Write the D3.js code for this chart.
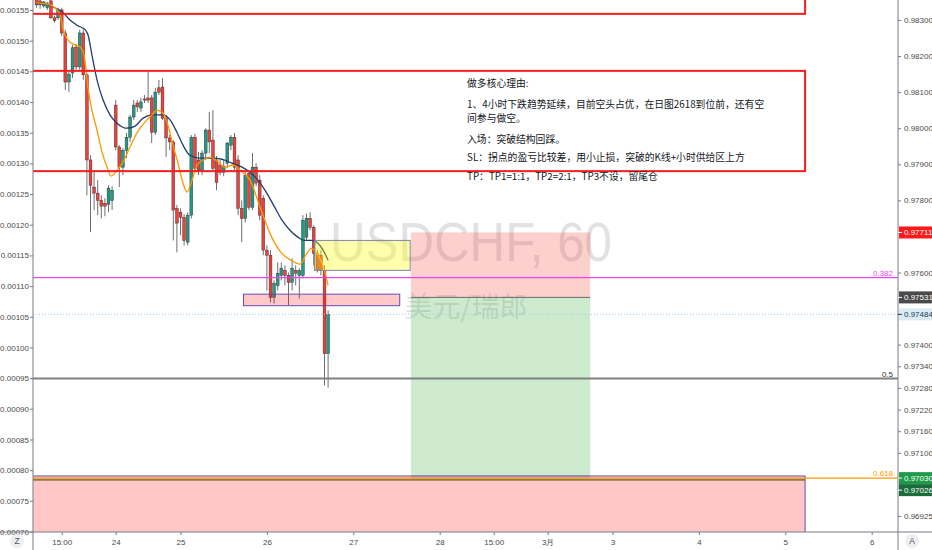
<!DOCTYPE html>
<html><head><meta charset="utf-8">
<script src="https://cdn.jsdelivr.net/npm/d3@7/dist/d3.min.js"></script>
<style>
html,body{margin:0;padding:0;background:#fff;overflow:hidden}
svg{display:block}
</style></head><body>
<svg id="c" width="932" height="550"></svg>
<script>
// ---------------- DATA ----------------
const firstBar = -22; // bar index of first candle (bar 0 = "24")
const opens  = [0.98364,0.98353,0.98339,0.98334,0.98353,0.98306,0.98306,0.98328,0.98264,0.98128,0.98153,0.98225,0.98170,0.98264,0.98148,0.97912,0.97837,0.97820,0.97800,0.97792,0.97789,0.97800,
  0.98064,0.97948,0.97892,0.97939,0.97975,0.98031,0.98070,0.98056,0.98081,0.98084,
  0.98084,0.97989,0.98112,0.98114,0.98028,0.97973,0.97962,0.97778,0.97767,0.97753,
  0.97684,0.97759,0.97975,0.97912,0.97884,0.97931,0.97995,0.97967,0.97912,0.97898,
  0.97878,0.97903,0.97953,0.97975,0.97912,0.97778,0.97750,0.97875,0.97781,0.97892,
  0.97856,0.97806,0.97662,0.97648,0.97531,0.97564,0.97592,0.97606,0.97592,0.97573,
  0.97606,0.97592,0.97592,0.97698,0.97750,0.97725,0.97653,0.97648,0.97606,0.97375];
const highs  = [0.98373,0.98362,0.98353,0.98350,0.98359,0.98312,0.98334,0.98334,0.98273,0.98156,0.98231,0.98234,0.98273,0.98273,0.98153,0.97925,0.97884,0.97856,0.97814,0.97806,0.97842,0.97839,
  0.98078,0.97953,0.97945,0.97987,0.98037,0.98078,0.98078,0.98084,0.98092,0.98156,
  0.98092,0.98112,0.98134,0.98139,0.98037,0.97981,0.97967,0.97787,0.97778,0.97762,
  0.97767,0.97981,0.97984,0.97934,0.97939,0.98000,0.98045,0.98050,0.97923,0.97912,
  0.97912,0.97962,0.97981,0.97987,0.97925,0.97800,0.97878,0.97884,0.97931,0.97903,
  0.97870,0.97814,0.97675,0.97662,0.97578,0.97628,0.97628,0.97620,0.97600,0.97639,
  0.97620,0.97612,0.97759,0.97764,0.97767,0.97731,0.97662,0.97662,0.97620,0.97495];
const lows   = [0.98334,0.98331,0.98334,0.98328,0.98303,0.98292,0.98300,0.98256,0.98106,0.98100,0.98139,0.98162,0.98162,0.98134,0.97814,0.97712,0.97773,0.97759,0.97750,0.97756,0.97767,0.97773,
  0.97939,0.97837,0.97870,0.97917,0.97962,0.98023,0.98045,0.98045,0.98070,0.98070,
  0.97959,0.97981,0.98092,0.98023,0.97920,0.97939,0.97689,0.97656,0.97703,0.97675,
  0.97675,0.97750,0.97878,0.97870,0.97870,0.97912,0.97931,0.97884,0.97828,0.97870,
  0.97867,0.97889,0.97939,0.97884,0.97759,0.97684,0.97739,0.97773,0.97773,0.97839,
  0.97745,0.97648,0.97550,0.97517,0.97514,0.97550,0.97578,0.97564,0.97509,0.97550,
  0.97564,0.97528,0.97584,0.97689,0.97717,0.97620,0.97600,0.97592,0.97287,0.97281];
const closes = [0.98342,0.98342,0.98350,0.98345,0.98306,0.98298,0.98328,0.98264,0.98128,0.98150,0.98223,0.98170,0.98264,0.98148,0.97912,0.97842,0.97820,0.97800,0.97784,0.97784,0.97834,0.97828,
  0.97948,0.97892,0.97939,0.97975,0.98031,0.98064,0.98059,0.98073,0.98078,0.98078,
  0.97989,0.98100,0.98100,0.98028,0.97973,0.97962,0.97773,0.97737,0.97753,0.97689,
  0.97759,0.97975,0.97889,0.97884,0.97931,0.97995,0.97962,0.97889,0.97850,0.97878,
  0.97895,0.97959,0.97975,0.97892,0.97778,0.97750,0.97870,0.97781,0.97892,0.97848,
  0.97759,0.97662,0.97648,0.97531,0.97570,0.97598,0.97612,0.97592,0.97573,0.97612,
  0.97598,0.97606,0.97745,0.97750,0.97725,0.97653,0.97606,0.97606,0.97375,0.97484];

// slow moving average (navy) [bar, price]
const slowMA = [[-22.1,0.98348],[-19.6,0.98345],[-16.9,0.98334],[-14.9,0.98323],[-12.7,0.98300],[-10.5,0.98284],[-8.5,0.98273],[-7.7,0.98259],[-6.6,0.98203],[-5.2,0.98134],[-3.5,0.98078],[-1.6,0.98037],[0.6,0.98012],[3.1,0.98000],[5.4,0.98006],[7.6,0.98028],[10.4,0.98037],[13.1,0.98037],[15.1,0.98023],[17.0,0.97989],[18.7,0.97953],[20.6,0.97925],[23.4,0.97917],[26.8,0.97917],[29.5,0.97914],[32.3,0.97903],[35.1,0.97892],[37.3,0.97878],[39.5,0.97856],[41.8,0.97823],[44.0,0.97784],[46.2,0.97745],[48.4,0.97717],[50.6,0.97698],[52.3,0.97689],[54.5,0.97689],[56.2,0.97681],[57.6,0.97662],[59.0,0.97634]];
// fast moving average (orange) [bar, price]
const fastMA = [[-22.1,0.98348],[-18.3,0.98342],[-16.6,0.98331],[-15.5,0.98317],[-14.6,0.98273],[-13.3,0.98245],[-11.3,0.98231],[-9.9,0.98225],[-8.8,0.98203],[-7.7,0.98112],[-6.6,0.98050],[-5.2,0.97995],[-3.8,0.97934],[-2.4,0.97892],[-1.3,0.97867],[0.4,0.97884],[2.0,0.97906],[4.0,0.97948],[5.9,0.97987],[8.1,0.98017],[10.1,0.98037],[11.5,0.98050],[13.1,0.98042],[14.5,0.98009],[15.9,0.97953],[17.3,0.97903],[18.7,0.97848],[19.8,0.97823],[21.2,0.97856],[22.6,0.97898],[24.3,0.97912],[26.2,0.97920],[28.1,0.97909],[30.4,0.97892],[32.6,0.97898],[34.5,0.97884],[37.3,0.97856],[40.4,0.97773],[43.1,0.97703],[45.9,0.97656],[48.7,0.97634],[51.2,0.97623],[52.9,0.97650],[54.3,0.97667],[56.2,0.97648],[57.8,0.97612],[59.0,0.97564]];

const leftTicks  = [0.00155,0.0015,0.00145,0.0014,0.00135,0.0013,0.00125,0.0012,0.00115,0.0011,0.00105,0.001,0.00095,0.0009,0.00085,0.0008,0.00075,0.0007];
const rightTicks = [0.983,0.982,0.981,0.980,0.979,0.978,0.977,0.976,0.975,0.974,0.9734,0.9728,0.9722,0.9716,0.9710,0.9704,0.9698,0.96925];
const xTickBars   = [-15,0,18,42,66,90,105,120,138,162,186,210];
const xTickLabels = ["15:00","24","25","26","27","28","15:00","3月","3","4","5","6"];

const fibLevels = [0.97586,0.97306,0.97030];
const fibLabels = ["0.382","0.5","0.618"];
const lastPrice = 0.97484;
const priceTags = [0.97711,0.97531,0.97484,0.97030,0.97026];

// rectangles: [barStart, barEnd, priceTop, priceBottom]
const redZoneTop  = [-40,191.5,0.9850,0.98317];
const redZoneNote = [-40,191.5,0.98159,0.97881];
const bottomZone  = [-40,191.5,0.97036,0.9680];
const supplyBox   = [55.2,81.8,0.97689,0.97606];
const demandBox   = [35.5,78.9,0.97540,0.97508];
// long/short position tool: [barStart, barEnd, stop, entry, target]
const position = [82,131.8,0.97711,0.97531,0.97026];

const noteLines = ["做多核心理由:","1、4小时下跌趋势延续，目前空头占优，在日图2618到位前，还有空","间参与做空。","入场：突破结构回踩。","SL：拐点的盈亏比较差，用小止损，突破的K线+小时供给区上方","TP：TP1=1:1，TP2=2:1，TP3不设，留尾仓"];
const noteBar = 97.6;
const notePrices = [0.98115,0.98057,0.98017,0.97960,0.97910,0.97857];

// ---------------- CHART ----------------
const W=932,H=550, L=33, R=898, T=0, B=532;
const svg=d3.select("#c");
const x = d3.scaleLinear().domain([0,210]).range([115.7,871.7]);
const yR = d3.scaleLinear().domain([0.983,0.96925]).range([20,516]);
const yL = d3.scaleLinear().domain([0.00155,0.0007]).range([10,531.5]);
const AX = '"Liberation Sans", Arial, sans-serif';
const CJK = '"Noto Sans CJK SC", sans-serif';

svg.append("rect").attr("width",W).attr("height",H).attr("fill","#fff");
svg.append("defs").append("clipPath").attr("id","plot").append("rect")
  .attr("x",L).attr("y",T).attr("width",R-L).attr("height",B-T);
const g = svg.append("g").attr("clip-path","url(#plot)");

// watermark
g.append("text").attr("x",471).attr("y",261).attr("text-anchor","middle")
  .attr("font-family",'"Liberation Sans", Arial, sans-serif').attr("font-size",56)
  .attr("textLength",282).attr("lengthAdjust","spacingAndGlyphs")
  .attr("fill","rgba(120,123,134,0.22)").text("USDCHF, 60");
g.append("text").attr("x",466).attr("y",317).attr("text-anchor","middle")
  .attr("font-family",CJK).attr("font-size",28)
  .attr("fill","rgba(120,123,134,0.22)").text("美元/瑞郎");

// position tool
const [pS,pE,pStop,pEntry,pTgt]=position;
g.append("rect").attr("x",x(pS)).attr("width",x(pE)-x(pS)).attr("y",yR(pStop)).attr("height",yR(pEntry)-yR(pStop)).attr("fill","rgba(244,67,54,0.25)");
g.append("rect").attr("x",x(pS)).attr("width",x(pE)-x(pS)).attr("y",yR(pEntry)).attr("height",yR(pTgt)-yR(pEntry)).attr("fill","rgba(76,175,80,0.28)");
g.append("line").attr("x1",x(pS)).attr("x2",x(pE)).attr("y1",yR(pEntry)).attr("y2",yR(pEntry)).attr("stroke","#6b6b6b").attr("stroke-width",1);

// candles
const idx = d3.range(opens.length);
const cg = g.append("g");
idx.forEach(k=>{
  const cx = x(firstBar+k);
  const o=opens[k],h=highs[k],l=lows[k],c=closes[k];
  const up = c>=o;
  cg.append("line").attr("x1",cx).attr("x2",cx).attr("y1",yR(h)).attr("y2",yR(l)).attr("stroke","#6d6f75").attr("stroke-width",1);
  const y0=Math.min(yR(o),yR(c)), hh=Math.max(Math.abs(yR(o)-yR(c)),1);
  cg.append("rect").attr("x",cx-1.4).attr("width",2.8).attr("y",y0).attr("height",hh)
    .attr("fill",up?"#1b9e86":"#f0403a").attr("stroke","#3a2a2a").attr("stroke-width",0.45);
});

// moving averages
const line = d3.line().x(d=>x(d[0])).y(d=>yR(d[1])).curve(d3.curveMonotoneX);
g.append("path").datum(slowMA).attr("d",line).attr("fill","none").attr("stroke","#233c6e").attr("stroke-width",1.3);
g.append("path").datum(fastMA).attr("d",line).attr("fill","none").attr("stroke","#ff9800").attr("stroke-width",1.3);

// boxes
function box(a,fill,stroke,sw){
  return g.append("rect").attr("x",x(a[0])).attr("width",x(a[1])-x(a[0]))
   .attr("y",yR(a[2])).attr("height",yR(a[3])-yR(a[2])).attr("fill",fill).attr("stroke",stroke).attr("stroke-width",sw);
}
box(bottomZone,"rgba(255,0,0,0.22)","#5c4fb5",1);
box(supplyBox,"rgba(255,255,0,0.33)","#7b86a8",1);
box(demandBox,"rgba(255,0,0,0.22)","#5c4fb5",1);

// last price dotted line
g.append("line").attr("x1",L).attr("x2",R).attr("y1",yR(lastPrice)).attr("y2",yR(lastPrice))
  .attr("stroke","#9fc9ea").attr("stroke-width",1).attr("stroke-dasharray","1,2");

// fib lines
const fibColors=["#ee44ee","#808080","#ff9800"];
fibLevels.forEach((v,k)=>{
  g.append("line").attr("x1",L).attr("x2",R).attr("y1",yR(v)).attr("y2",yR(v))
    .attr("stroke",fibColors[k]).attr("stroke-width",k==1?2:1.2);
  g.append("text").attr("x",893).attr("y",yR(v)-2).attr("text-anchor","end")
    .attr("font-family",AX).attr("font-size",8).attr("fill",k==1?"#333":fibColors[k]).text(fibLabels[k]);
});
// olive companion line under 0.618
g.append("line").attr("x1",L).attr("x2",805).attr("y1",yR(fibLevels[2])+1.8).attr("y2",yR(fibLevels[2])+1.8)
  .attr("stroke","#8d7b4a").attr("stroke-width",1.6);

// red zones (border only)
box(redZoneTop,"none","#f51d1d",2);
box(redZoneNote,"none","#f51d1d",2);

// note text
noteLines.forEach((t,k)=>{
  g.append("text").attr("x",x(noteBar)).attr("y",yR(notePrices[k])).attr("font-family",CJK)
   .attr("font-size",9.8).attr("fill","#131722").text(t);
});

// ---------------- AXES ----------------
const axCol="#787b86";
const tagY=[]; let prev=-100;
priceTags.forEach(v=>{ let yy=yR(v); if(yy<prev+12) yy=prev+12; prev=yy; tagY.push(yy); });
const freeTick = v => tagY.every(t=>Math.abs(yR(v)-t)>=11);

const la = svg.append("g").attr("transform",`translate(${L},0)`)
  .call(d3.axisLeft(yL).tickValues(leftTicks).tickSize(3).tickFormat(d3.format(".5f")));
const ra = svg.append("g").attr("transform",`translate(${R},0)`)
  .call(d3.axisRight(yR).tickValues(rightTicks.filter(freeTick)).tickSize(3).tickFormat(d3.format(".5f")));
const ba = svg.append("g").attr("transform",`translate(0,${B})`)
  .call(d3.axisBottom(x).tickValues(xTickBars).tickSize(3).tickFormat((d,k)=>xTickLabels[k]));
[la,ra,ba].forEach(a=>{
  a.select(".domain").remove();
  a.selectAll("line").attr("stroke",axCol);
  a.selectAll("text").attr("font-family",AX).attr("font-size",8).attr("fill","#4a4a4a");
});
la.selectAll("text").attr("x",-4);
ra.selectAll("text").attr("x",6);
ba.selectAll("text").attr("y",7);
svg.append("line").attr("x1",L).attr("x2",L).attr("y1",0).attr("y2",H).attr("stroke",axCol);
svg.append("line").attr("x1",R).attr("x2",R).attr("y1",0).attr("y2",H).attr("stroke",axCol);
svg.append("line").attr("x1",0).attr("x2",W).attr("y1",B).attr("y2",B).attr("stroke",axCol);

// right price tags
const tagFill=["#ff1a1a","#4a4a4a","#d8ecf5","#1f9b4a","#1c6b3a"];
const tagText=["#fff","#fff","#1d3a55","#fff","#fff"];
priceTags.forEach((v,k)=>{
  const yy=tagY[k];
  svg.append("rect").attr("x",R+1).attr("y",yy-6).attr("width",W-R-1).attr("height",12).attr("fill",tagFill[k]);
  svg.append("line").attr("x1",R).attr("x2",R+4).attr("y1",yy).attr("y2",yy).attr("stroke",tagText[k]);
  svg.append("text").attr("x",R+6).attr("y",yy+3).attr("font-family",AX).attr("font-size",8)
   .attr("fill",tagText[k]).text(d3.format(".5f")(v));
});

// corner buttons
[[17,"Z"],[912,"A"]].forEach(([cx,t])=>{
  svg.append("circle").attr("cx",cx).attr("cy",541).attr("r",7).attr("fill","#eceef2");
  svg.append("text").attr("x",cx).attr("y",544).attr("text-anchor","middle").attr("font-family",AX)
    .attr("font-size",8.5).attr("fill","#555").text(t);
});
</script></body></html>
